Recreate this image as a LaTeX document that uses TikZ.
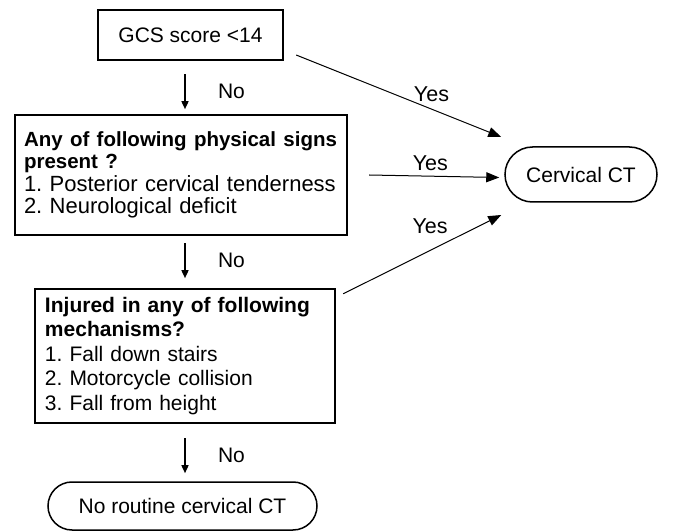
\documentclass[tikz,border=0pt]{standalone}
\usepackage{fontspec}
\setmainfont{Liberation Sans}
\usetikzlibrary{arrows.meta, shapes.misc, calc}
\newcommand{\yesArrow}{{Triangle[length=13pt, width=10pt]}}
\newcommand{\noArrow}{{Triangle[length=8pt, width=7pt]}}
\newcommand{\headLine}[1]{{\fontsize{20.5}{22.5}\selectfont\bfseries #1}}
\frenchspacing

\begin{document}
\begin{tikzpicture}[x=1pt, y=-1pt, font=\fontsize{21}{24}\selectfont,
	box/.style={draw=black, line width=2.4pt},
	term/.style={draw=black, line width=1.5pt, rounded rectangle, inner sep=0pt},
	yes/.style={-\yesArrow, line width=1pt},
	no/.style={-\noArrow, line width=1.5pt}]
	\useasboundingbox (0,0) rectangle (673,532);

	% decision boxes
	\node[box, minimum width=185pt, minimum height=50pt] (gcs) at (190.5,35) {GCS score <14};
	\node[box, text width=314pt, inner xsep=9pt, minimum height=120pt, align=left,
		font=\fontsize{22}{22.5}\selectfont] (signs) at (181,175)
		{\headLine{Any of following physical signs}\\\headLine{present ?}\\1. Posterior cervical tenderness\\2. Neurological deficit};
	\node[box, text width=280pt, inner xsep=10pt, minimum height=134pt, align=left,
		font=\fontsize{21}{24.5}\selectfont] (mech) at (185,356)
		{\textbf{Injured in any of following}\\\textbf{mechanisms?}\\1. Fall down stairs\\2. Motorcycle collision\\3. Fall from height};

	% outcomes
	\node[term, minimum width=152pt, minimum height=55pt] (ct) at (581,174.5) {Cervical CT};
	\node[term, minimum width=269pt, minimum height=48pt] (noct) at (182.5,506) {No routine cervical CT};

	% yes
	\draw[yes] ($(gcs.east)+(12,20)$) -- ($(ct.west)+(-3,-37.5)$) node[pos=0.66, yshift=15pt, font=\fontsize{21.5}{24}\selectfont] (yes1) {Yes};
	\draw[yes] ($(signs.east)+(21,0)$) -- ($(ct.west)+(-5,3)$) node[pos=0.47, yshift=13pt, font=\fontsize{21.5}{24}\selectfont] (yes2) {Yes};
	\draw[yes] ($(mech.north east)+(7,6)$) -- ($(ct.west)+(-3,40.5)$) node[pos=0.55, yshift=24pt, font=\fontsize{21.5}{24}\selectfont] (yes3) {Yes};

	% no
	\draw[no] ($(gcs.south)+(-5.5,13)$) -- ($(gcs.south)+(-5.5,48)$) node[midway, anchor=west, xshift=29pt] (no1) {No};
	\draw[no] ($(signs.south)+(4,7)$) -- ($(signs.south)+(4,42)$) node[midway, anchor=west, xshift=29pt] (no2) {No};
	\draw[no] ($(mech.south)+(0,14)$) -- ($(mech.south)+(0,49)$) node[midway, anchor=west, xshift=29pt] (no3) {No};

\end{tikzpicture}
\end{document}
